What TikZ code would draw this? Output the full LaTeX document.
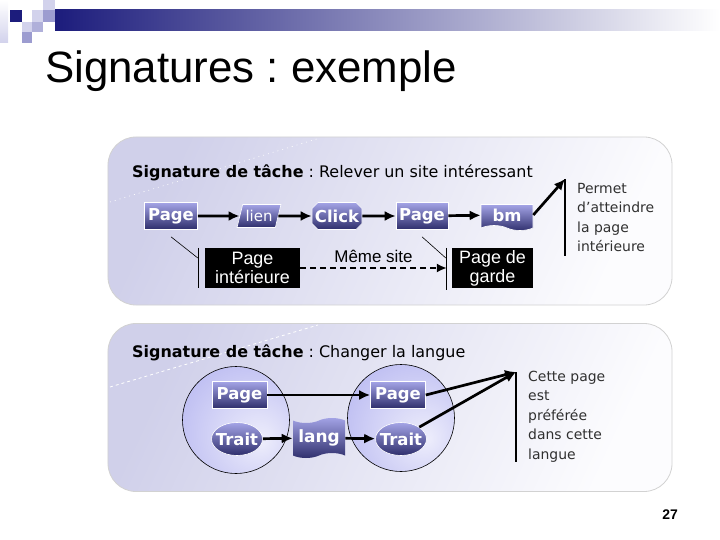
\documentclass[tikz,border=0pt]{standalone}
\usepackage{fontspec}
\setmainfont{DejaVu Sans}
\newfontfamily\arialfont{Liberation Sans}
\usetikzlibrary{arrows.meta, positioning, shapes.geometric, shapes.misc, shapes.symbols, calc}
\definecolor{slNavy}{HTML}{1C1C7C}
\definecolor{slPale}{HTML}{D2D2EC}
\definecolor{slMid}{HTML}{9C9CD0}
\definecolor{boxTop}{HTML}{A4A4E6}
\definecolor{boxBot}{HTML}{2E2E6C}
\definecolor{panelA}{HTML}{D0D0EA}
\definecolor{panelB}{HTML}{FCFCFE}
\definecolor{circOut}{HTML}{AAAAEE}
\definecolor{noteGrey}{HTML}{303030}
\pgfdeclareradialshading{circShade}{\pgfpoint{12bp}{-10bp}}{color(0bp)=(white!80!circOut); color(25bp)=(white!40!circOut); color(50bp)=(circOut); color(75bp)=(circOut)}

\begin{document}
\frenchspacing
\begin{tikzpicture}[x=1bp, y=-1bp,
  panel/.style={draw=gray!35, line width=0.8bp, rounded corners=28bp, left color=panelA, right color=panelB, shading angle=65, minimum width=564bp, minimum height=168bp},
  tag/.style={draw=white, line width=0.6bp, top color=boxTop, bottom color=boxBot, text=white, font=\fontsize{16.5}{16.5}\selectfont\bfseries, inner sep=0pt, minimum height=27bp},
  blk/.style={fill=black, text=white, font=\arialfont\fontsize{18}{19}\selectfont, align=center, inner sep=0pt, minimum height=40bp},
  circ/.style={circle, draw=black, line width=0.6bp, shading=circShade, minimum size=107bp, inner sep=0pt},
  note/.style={anchor=north west, align=left, text=noteGrey, font=\fontsize{14}{19.5}\selectfont, inner sep=0pt},
  sig/.style={anchor=base west, inner sep=0pt, font=\fontsize{16}{16}\selectfont},
  arr/.style={line width=2.7bp, -{Latex[length=11bp,width=10bp]}},
  callout/.style={line width=0.6bp}
]
  \useasboundingbox (0,0) rectangle (720,540);

  % slide decoration
  \shade[left color=slNavy, right color=white] (55,10) rectangle (720,31);
  \shade[top color=white, bottom color=slPale] (0,0) rectangle (8,43);
  \fill[slNavy] (10,10) rectangle (22,22);
  \fill[slPale] (32,10) rectangle (43,22);
  \fill[slPale] (43,0) rectangle (55,10);
  \fill[slMid] (43,10) rectangle (55,22);
  \fill[slPale] (22,22) rectangle (32,32);
  \fill[slMid!80] (32,22) rectangle (43,32);
  \fill[slMid] (22,32) rectangle (32,43);

  \node[anchor=base west, inner sep=0pt, font=\arialfont\fontsize{44}{44}\selectfont] (title) at (45,83) {Signatures : exemple};

  % panels
  \node[panel] (panelTop) at (390,221) {};
  \node[panel] (panelBot) at (390,407.5) {};
  \draw[white, line width=0.6bp, dash pattern=on 1bp off 4bp] (110,202) -- (320,138);
  \draw[white, line width=0.8bp, dashed] (110,387) -- (318,325);

  % first signature
  \node[sig] (sigTop) at (132,178) {\textbf{Signature de tâche} : Relever un site intéressant};
  \node[tag, minimum width=53bp] (page1) at (171,216) {Page};
  \node[tag, trapezium, trapezium left angle=68, trapezium right angle=112, trapezium stretches=true, minimum width=44bp, minimum height=23bp, font=\fontsize{15}{15}\selectfont] (lien) at (259,216) {lien};
  \node[tag, chamfered rectangle, chamfered rectangle xsep=3bp, chamfered rectangle ysep=3bp, minimum width=50bp] (click) at (337,216) {Click};
  \node[tag, minimum width=52bp] (page2) at (422,216) {Page};
  \node[tag, tape, tape bend top=none, tape bend bottom=out and in, tape bend height=5bp, minimum width=52bp, minimum height=26bp] (bm) at (507,215) {bm};

  \draw[arr] (page1) -- (lien);
  \draw[arr] (lien) -- (click);
  \draw[arr] (click) -- (page2);
  \draw[arr] (page2) -- (bm);

  \coordinate (permTip) at (565,179);
  \coordinate (permBase) at (565,256);
  \draw[arr] (bm.east) -- (permTip);
  \draw[line width=1.8bp] (permTip) -- (permBase);
  \node[note] (permet) at (577,183) {Permet\\d’atteindre\\la page\\intérieure};

  \node[blk, minimum width=95bp] (pint) at (252.5,268) {Page\\intérieure};
  \node[blk, minimum width=81bp] (pgarde) at (492.5,268) {Page de\\garde};
  \draw[callout] ([yshift=-7bp]page1.south) -- ([xshift=-7bp,yshift=10bp]pint.west);
  \draw[callout] ([xshift=-7bp]pint.north west) -- ([xshift=-7bp]pint.south west);
  \draw[callout] ([yshift=-7bp]page2.south) -- ([xshift=-6bp,yshift=10bp]pgarde.west);
  \draw[callout] ([xshift=-6bp]pgarde.north west) -- ([xshift=-6bp,yshift=-2bp]pgarde.south west);
  \draw[line width=1.8bp, dash pattern=on 6bp off 4bp, -{Latex[length=10bp,width=9bp]}] (pint.east) -- ([xshift=-5bp]pgarde.west)
    node[midway, above=1bp, font=\arialfont\fontsize{17}{17}\selectfont] (meme) {Même site};

  % second signature
  \node[sig] (sigBot) at (132,357) {\textbf{Signature de tâche} : Changer la langue};
  \node[circ] (circA) at (236,420) {};
  \node[circ] (circB) at (401,418) {};
  \node[tag, minimum width=55bp] (page3) at (239.5,395) {Page};
  \node[tag, minimum width=55bp] (page4) at (398,395) {Page};
  \node[tag, ellipse, inner xsep=-5bp, inner ysep=-2bp, minimum width=51bp, minimum height=33bp] (trait1) at (237,439) {Trait};
  \node[tag, ellipse, inner xsep=-5bp, inner ysep=-2bp, minimum width=51bp, minimum height=33bp] (trait2) at (401,439) {Trait};
  \node[tag, tape, draw=none, tape bend top=in and out, tape bend bottom=in and out, tape bend height=5bp, minimum width=52bp, minimum height=40bp, font=\fontsize{17}{17}\selectfont\bfseries] (lang) at (319,438) {lang};

  \draw[arr] (page3) -- (page4);
  \draw[arr] (trait1) -- (lang);
  \draw[arr] (lang) -- (trait2);

  \coordinate (prefTip) at (516,372);
  \coordinate (prefBase) at (516,462);
  \draw[arr] (page4.east) -- (prefTip);
  \draw[arr] (trait2.north east) -- (prefTip);
  \draw[line width=1.8bp] (prefTip) -- (prefBase);
  \node[note] (prefere) at (528,371) {Cette page\\est\\préférée\\dans cette\\langue};

  \node[font=\arialfont\bfseries\fontsize{14}{14}\selectfont, inner sep=0pt] (pnum) at (670,515) {27};
\end{tikzpicture}
\end{document}
